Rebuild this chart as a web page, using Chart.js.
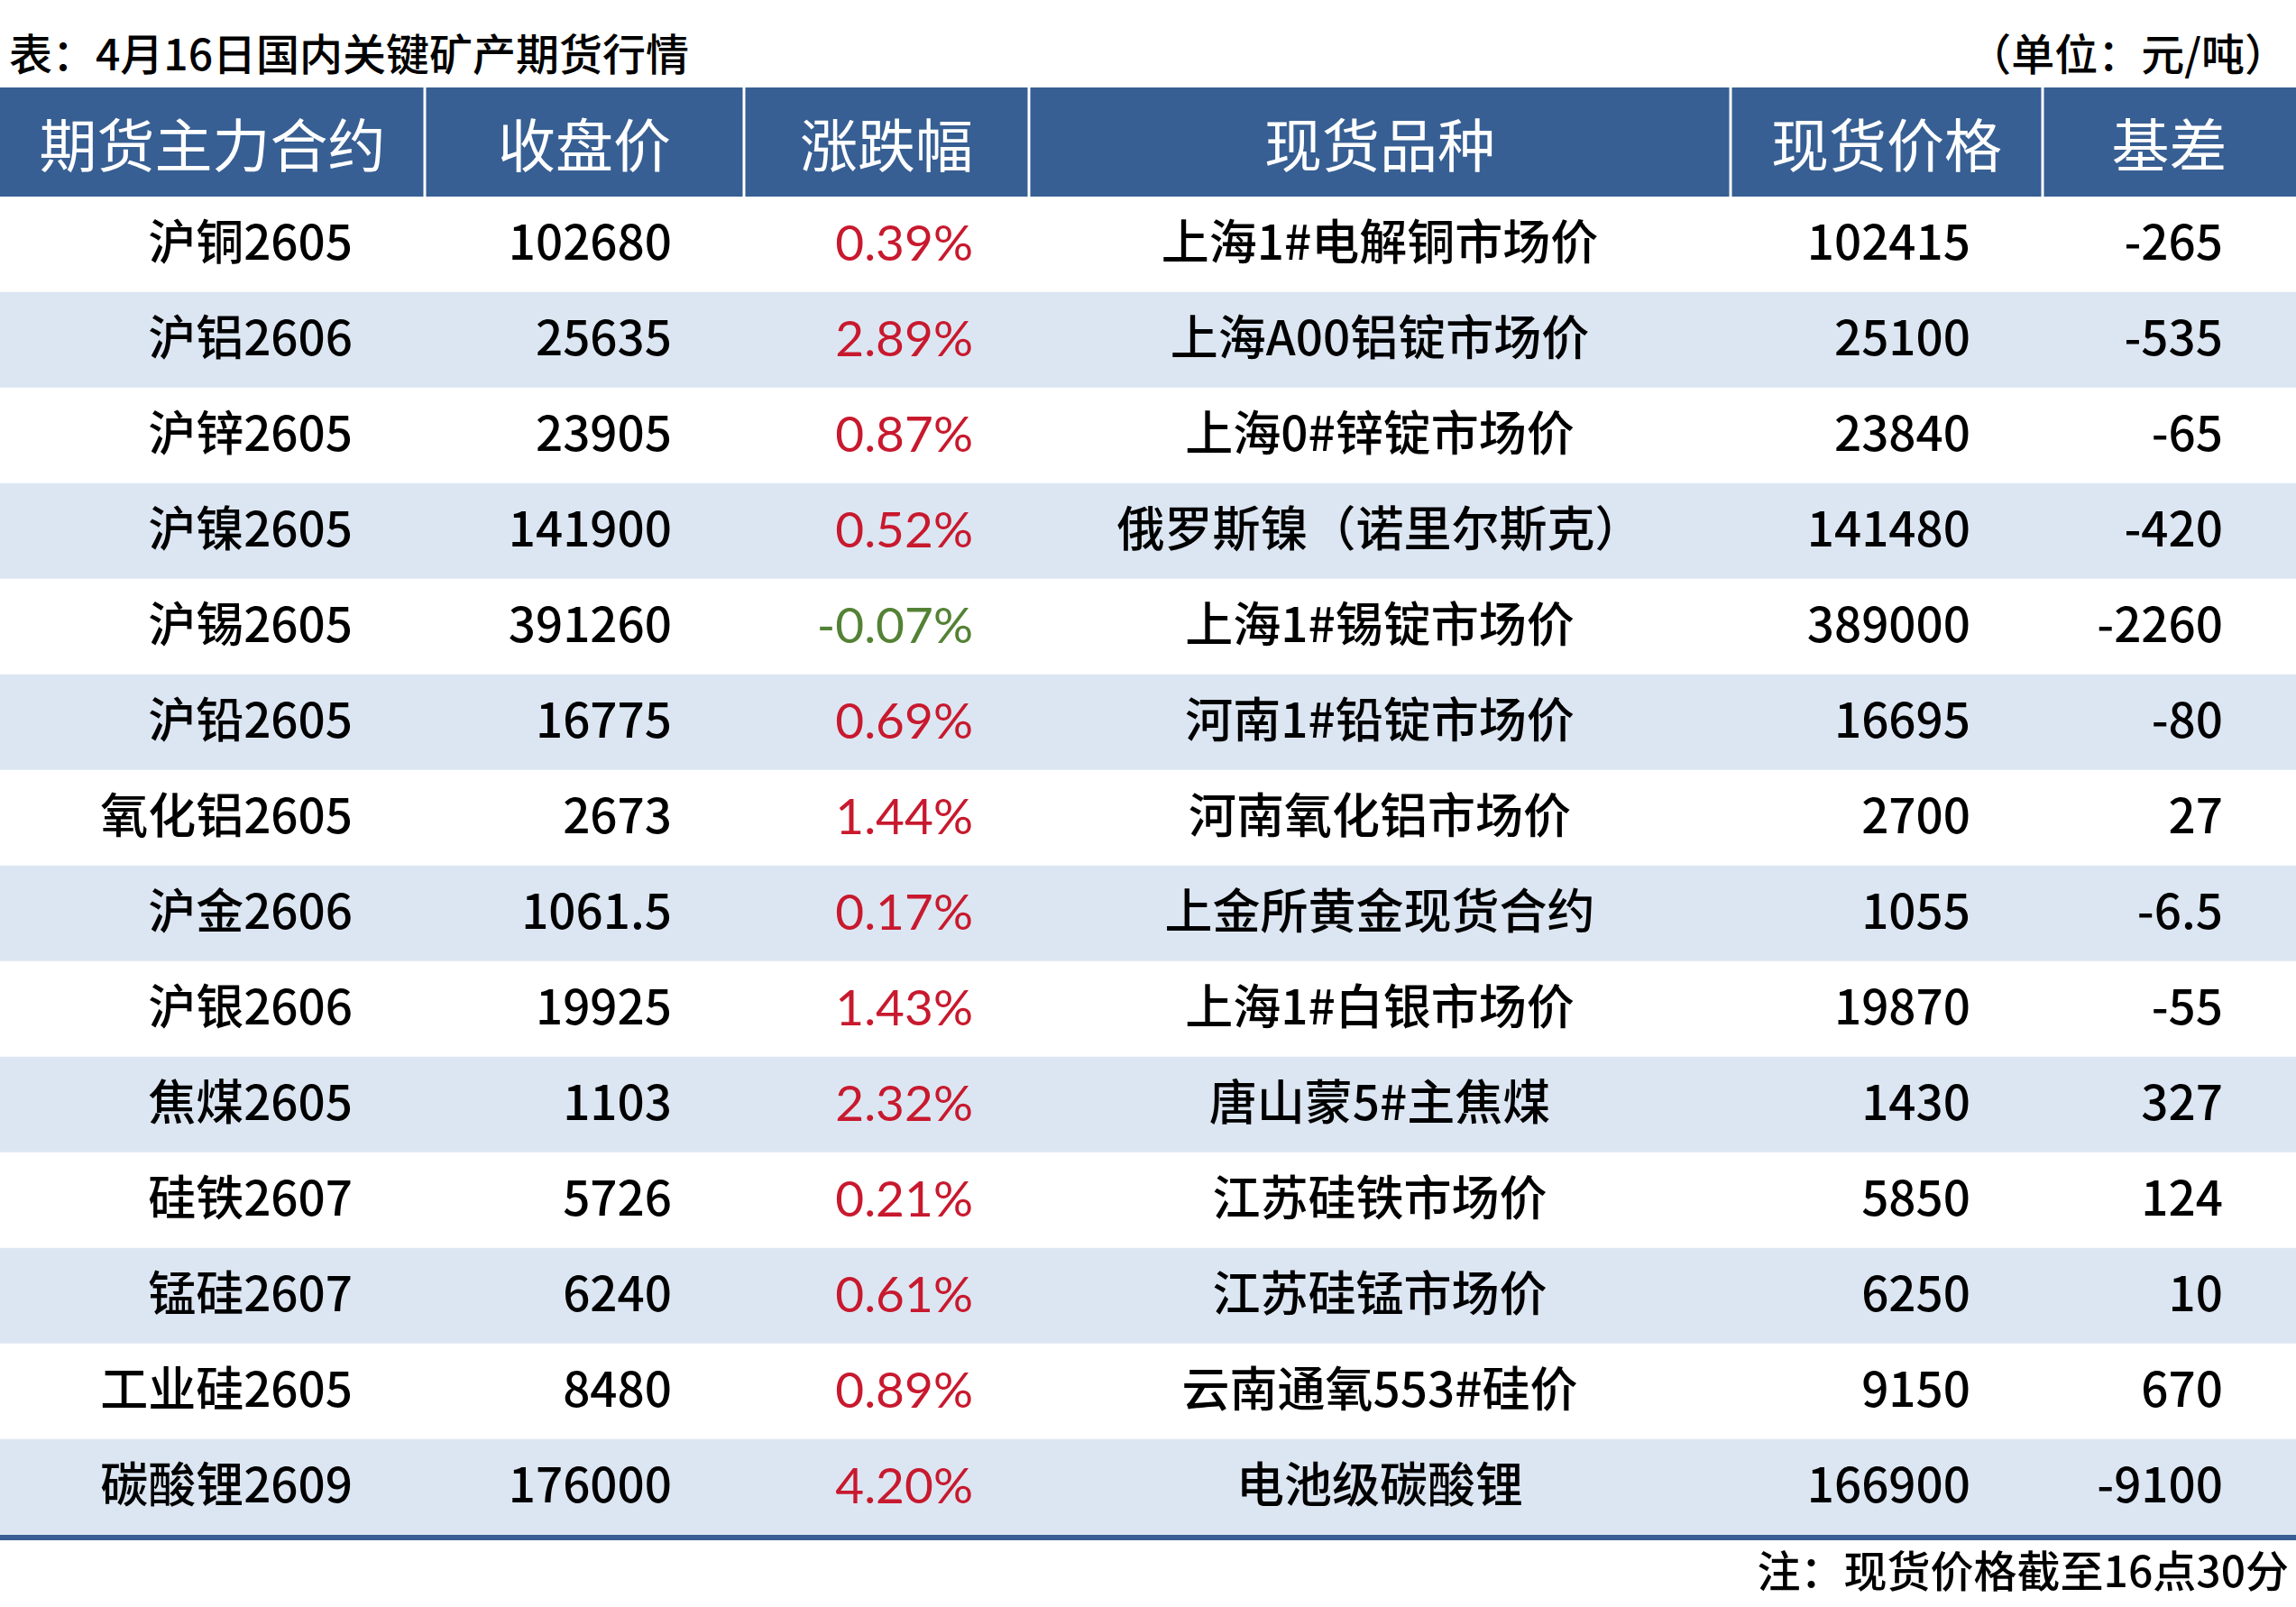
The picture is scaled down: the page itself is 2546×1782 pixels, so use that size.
<!DOCTYPE html>
<html lang="zh-CN">
<head>
<meta charset="utf-8">
<title>4月16日国内关键矿产期货行情</title>
<script src="https://cdn.jsdelivr.net/npm/chart.js@4.4.1/dist/chart.umd.min.js"></script>
<style>
    html, body { margin: 0; padding: 0; background: #ffffff; }
    body {
        width: 2546px;
        height: 1782px;
        position: relative;
        overflow: hidden;
        font-family: "Noto Sans CJK SC", "Noto Sans", sans-serif;
        color: #000;
    }
    .caption {
        position: absolute;
        font-size: 48px;
        line-height: 1;
        font-weight: 500;
        white-space: nowrap;
    }
    #title { left: 10px; top: 33px; }
    #unit { right: 9px; top: 33px; }
    #note { right: 8px; top: 1715px; }
    #tableChart { position: absolute; left: 0; top: 97px; }
</style>
</head>
<body>
<div class="caption" id="title">表：4月16日国内关键矿产期货行情</div>
<div class="caption" id="unit">（单位：元/吨）</div>
<canvas id="tableChart" width="2546" height="1611"></canvas>
<div class="caption" id="note">注：现货价格截至16点30分</div>

<script>
// Date din tabel
const headers = ["期货主力合约", "收盘价", "涨跌幅", "现货品种", "现货价格", "基差"];
const contracts = ["沪铜2605", "沪铝2606", "沪锌2605", "沪镍2605", "沪锡2605", "沪铅2605", "氧化铝2605",
    "沪金2606", "沪银2606", "焦煤2605", "硅铁2607", "锰硅2607", "工业硅2605", "碳酸锂2609"];
const closePrices = [102680, 25635, 23905, 141900, 391260, 16775, 2673, 1061.5, 19925, 1103, 5726, 6240, 8480, 176000];
const changePct = [0.39, 2.89, 0.87, 0.52, -0.07, 0.69, 1.44, 0.17, 1.43, 2.32, 0.21, 0.61, 0.89, 4.20];
const spotNames = ["上海1#电解铜市场价", "上海A00铝锭市场价", "上海0#锌锭市场价", "俄罗斯镍（诺里尔斯克）",
    "上海1#锡锭市场价", "河南1#铅锭市场价", "河南氧化铝市场价", "上金所黄金现货合约", "上海1#白银市场价",
    "唐山蒙5#主焦煤", "江苏硅铁市场价", "江苏硅锰市场价", "云南通氧553#硅价", "电池级碳酸锂"];
const spotPrices = [102415, 25100, 23840, 141480, 389000, 16695, 2700, 1055, 19870, 1430, 5850, 6250, 9150, 166900];
const basis = [-265, -535, -65, -420, -2260, -80, 27, -6.5, -55, 327, 124, 10, 670, -9100];

// Layout
const TABLE_W = 2546;
const COL_EDGES = [0, 471, 825, 1141, 1919, 2265, 2546];
const HEADER_H = 121;
const RULE_H = 6;
const BLUE = "#375f93";
const ROW_ALT = "#dce6f2";
const RED = "#c8192e";
const GREEN = "#548235";
const CJK = '"Noto Sans CJK SC", sans-serif';

// Coloane: text, aliniere, distanta fata de marginea dreapta, font, culoare
const columns = [
    { text: i => contracts[i], align: "right", pad: 80, font: "500 53px " + CJK, dy: -3 },
    { text: i => String(closePrices[i]), align: "right", pad: 80, font: "500 53px " + CJK, dy: -3 },
    { text: i => changePct[i].toFixed(2) + "%", align: "right", pad: 62, font: "55px Lato, sans-serif", dy: 0,
      color: i => changePct[i] < 0 ? GREEN : RED },
    { text: i => spotNames[i], align: "center", font: "500 53px " + CJK, dy: -3 },
    { text: i => String(spotPrices[i]), align: "right", pad: 80, font: "500 53px " + CJK, dy: -3 },
    { text: i => String(basis[i]), align: "right", pad: 81, font: "500 53px " + CJK, dy: -3 }
];

const tablePlugin = {
    id: "tablePlugin",
    afterDatasetsDraw(chart) {
        const { ctx, chartArea, scales: { x, y } } = chart;
        ctx.save();
        ctx.textBaseline = "middle";
        contracts.forEach((_, i) => {
            const yc = y.getPixelForValue(i);
            columns.forEach((col, c) => {
                const left = x.getPixelForValue(COL_EDGES[c]);
                const right = x.getPixelForValue(COL_EDGES[c + 1]);
                ctx.font = col.font;
                ctx.fillStyle = col.color ? col.color(i) : "#000";
                ctx.textAlign = col.align;
                const xt = col.align === "center" ? (left + right) / 2 : right - col.pad;
                ctx.fillText(col.text(i), xt, yc + col.dy);
            });
        });

        // Linia de jos
        ctx.fillStyle = BLUE;
        ctx.fillRect(x.getPixelForValue(0), chartArea.bottom, x.getPixelForValue(TABLE_W) - x.getPixelForValue(0), RULE_H);
        ctx.restore();
    },
    afterDraw(chart) {
        const { ctx, chartArea, scales: { x } } = chart;
        const top = chartArea.top - HEADER_H;
        ctx.save();
        ctx.fillStyle = BLUE;
        ctx.fillRect(x.getPixelForValue(0), top, x.getPixelForValue(TABLE_W) - x.getPixelForValue(0), HEADER_H);

        // Separatoare albe in antet
        ctx.strokeStyle = "#ffffff";
        ctx.lineWidth = 3;
        COL_EDGES.slice(1, -1).forEach(v => {
            const px = x.getPixelForValue(v);
            ctx.beginPath();
            ctx.moveTo(px, top);
            ctx.lineTo(px, chartArea.top);
            ctx.stroke();
        });

        ctx.fillStyle = "#ffffff";
        ctx.font = "400 64px " + CJK;
        ctx.textAlign = "center";
        ctx.textBaseline = "middle";
        headers.forEach((h, c) => {
            const xc = (x.getPixelForValue(COL_EDGES[c]) + x.getPixelForValue(COL_EDGES[c + 1])) / 2;
            ctx.fillText(h, xc, top + HEADER_H / 2 + 3);
        });
        ctx.restore();
    }
};

function drawTable() {
    const ctx = document.getElementById("tableChart").getContext("2d");
    new Chart(ctx, {
        type: "bar",
        data: {
            labels: contracts,
            datasets: [{
                data: contracts.map(() => [0, TABLE_W]),
                backgroundColor: contracts.map((_, i) => i % 2 ? ROW_ALT : "#ffffff"),
                borderWidth: 0,
                barPercentage: 1,
                categoryPercentage: 1
            }]
        },
        options: {
            indexAxis: "y",
            responsive: false,
            animation: false,
            devicePixelRatio: 1,
            layout: { padding: { top: HEADER_H, bottom: RULE_H, left: 0, right: 0 } },
            plugins: { legend: { display: false }, tooltip: { enabled: false } },
            scales: {
                x: {
                    type: "linear",
                    min: 0,
                    max: TABLE_W,
                    z: 1,
                    afterBuildTicks: scale => {
                        scale.ticks = COL_EDGES.slice(1, -1).map(v => ({ value: v }));
                    },
                    ticks: { display: false },
                    grid: { drawTicks: false, color: "#bfbfbf", lineWidth: 1.5, borderDash: [4, 3] },
                    border: { display: false, dash: [4, 3] }
                },
                y: { type: "category", display: false, offset: true }
            }
        },
        plugins: [tablePlugin]
    });
}

Promise.all([
    document.fonts.load('500 53px "Noto Sans CJK SC"'),
    document.fonts.load('55px Lato')
]).then(drawTable, drawTable);
</script>
</body>
</html>
